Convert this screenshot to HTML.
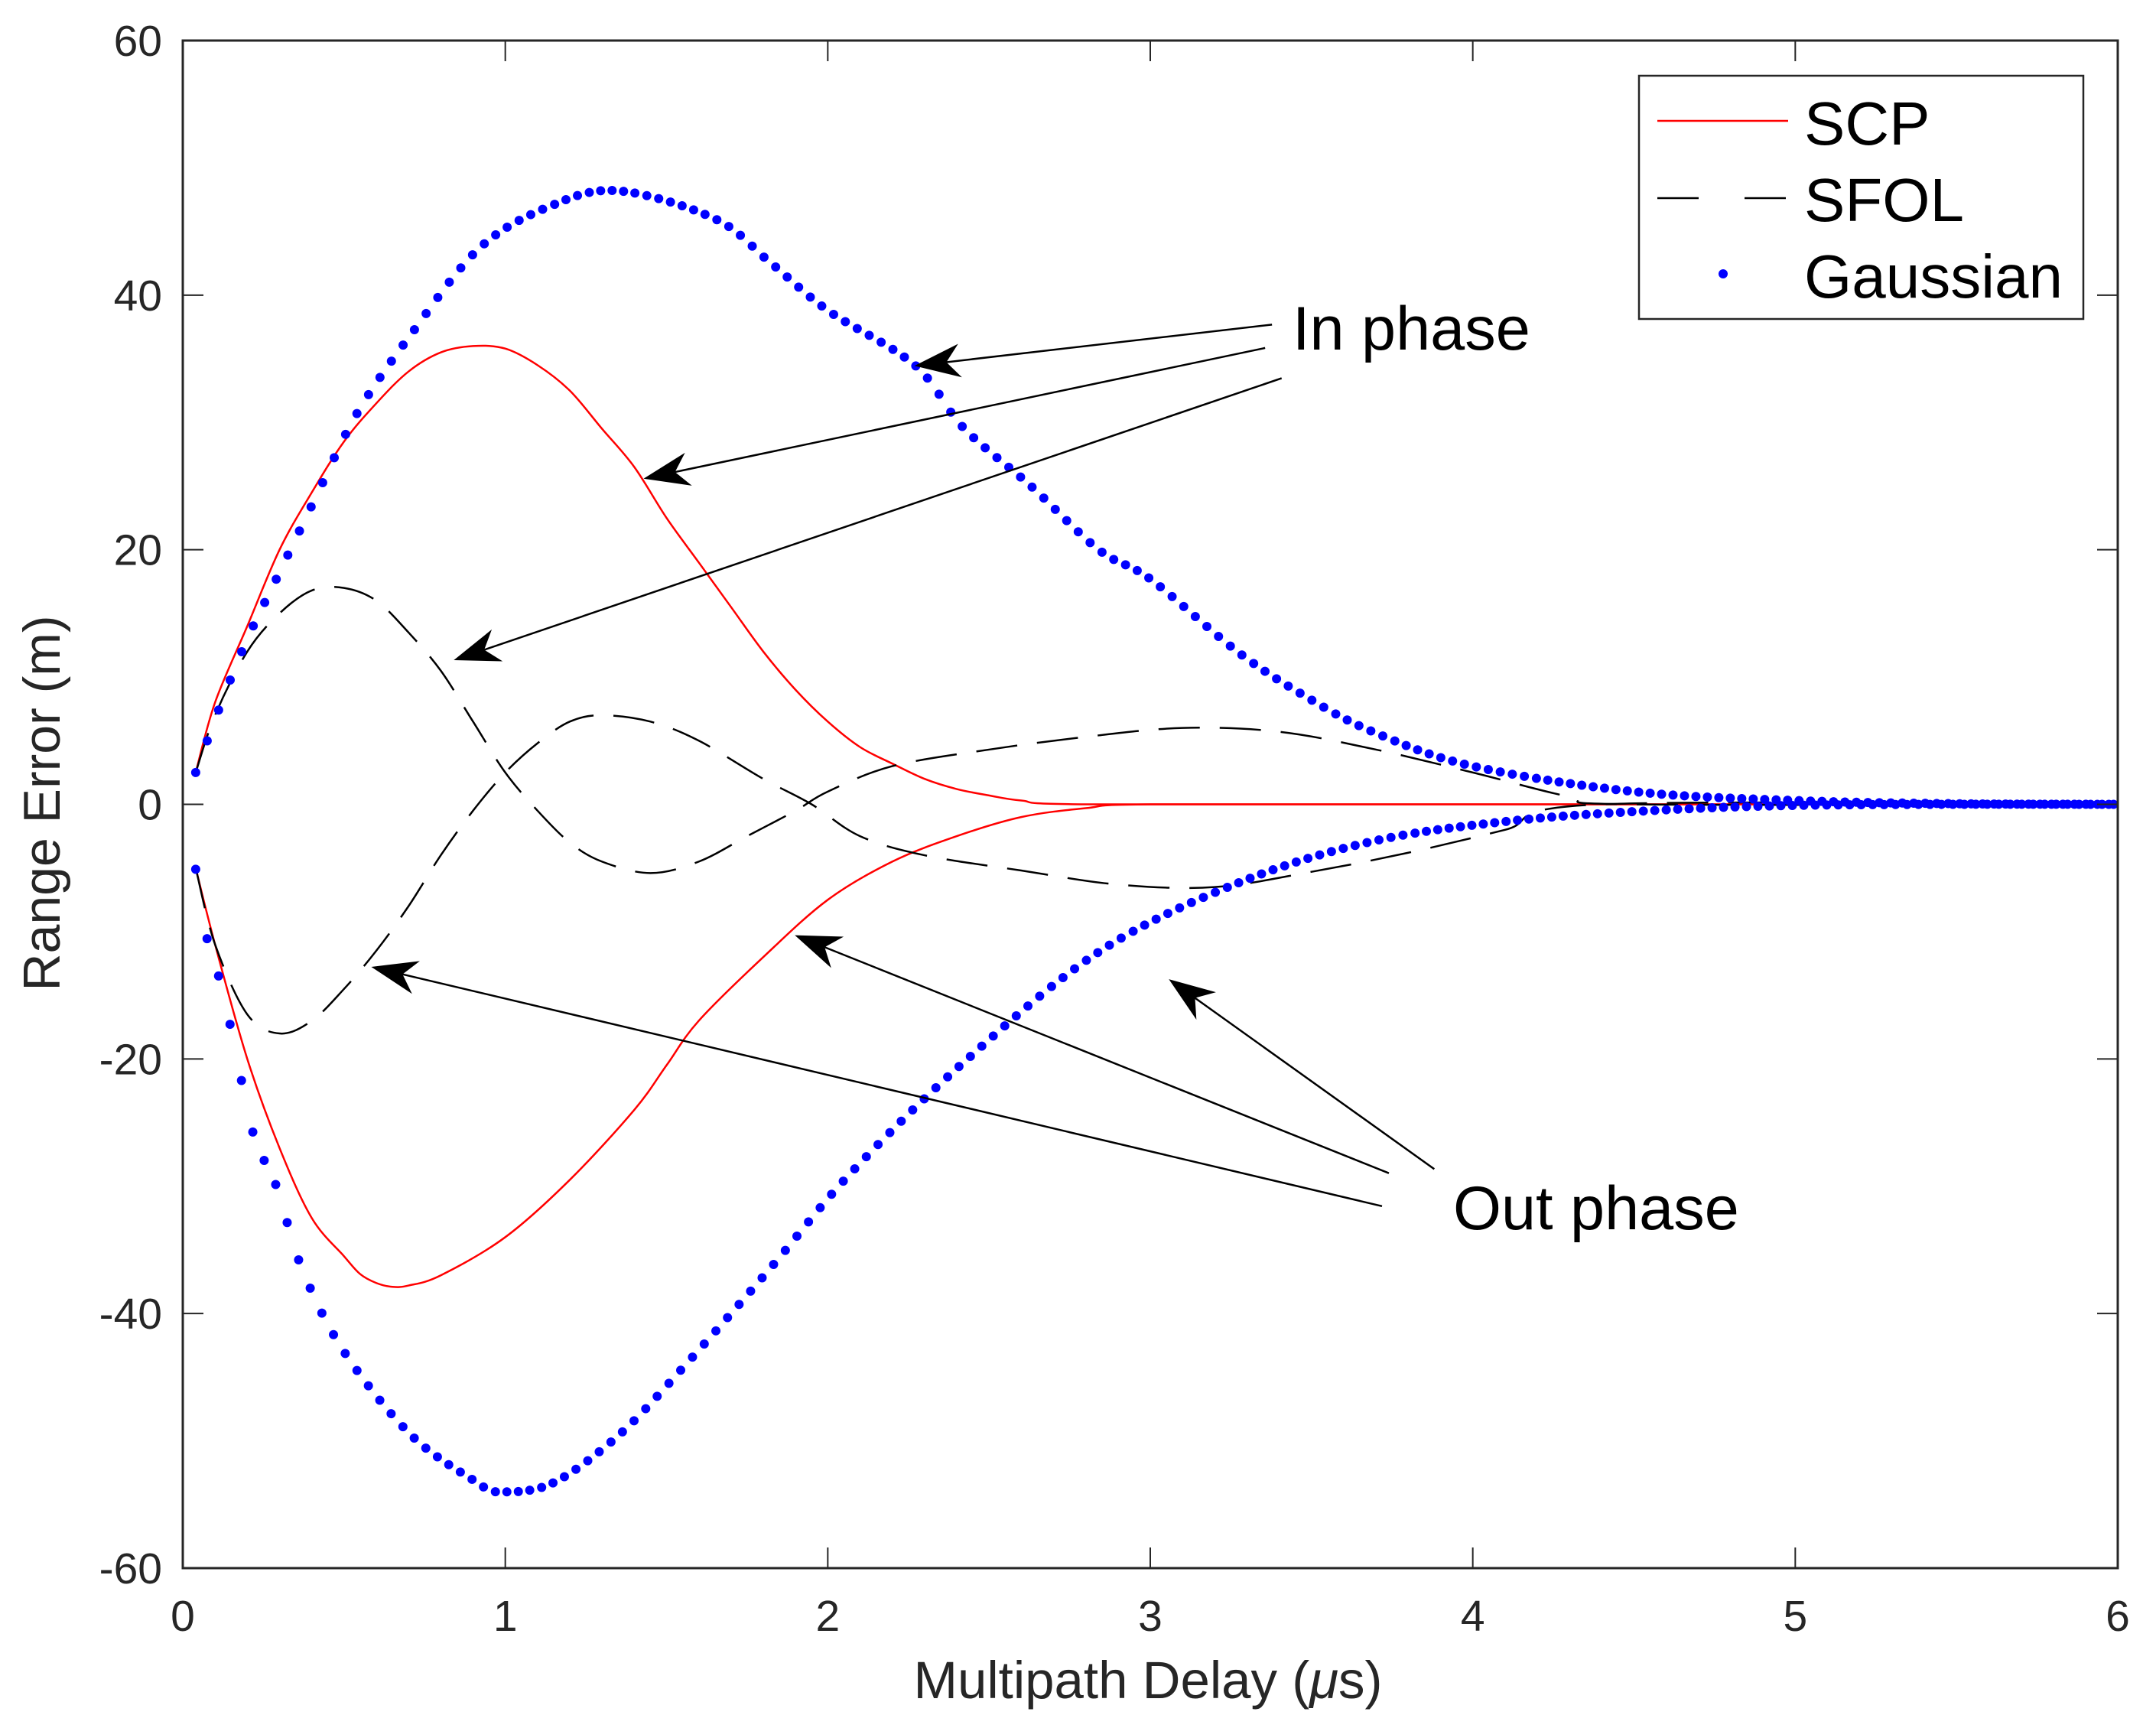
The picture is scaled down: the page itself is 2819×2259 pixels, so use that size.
<!DOCTYPE html>
<html><head><meta charset="utf-8"><style>
html,body{margin:0;padding:0;background:#fff;}
svg{display:block;font-family:"Liberation Sans",sans-serif;}
</style></head><body>
<svg id="chart" width="2819" height="2259" viewBox="0 0 2819 2259" xmlns="http://www.w3.org/2000/svg">
<rect width="2819" height="2259" fill="#fff"/>
<g id="plot"></g>
</svg>
<script>
const xTicks=[0,1,2,3,4,5,6];
const yTicks=[-60,-40,-20,0,20,40,60];
const gaussUpX=[0.04,0.12,0.2,0.29,0.41,0.54,0.71,0.92,1.14,1.35,1.65,1.82,2.0,2.27,2.42,2.63,2.84,3.0,3.27,3.48,3.69,4.0,4.5,5.0,5.5,6.0];
const gaussUpY=[2.5,8,13,17.7,24,30.7,37,43.7,47,48.2,46,42.6,38.8,34.5,29.6,25,20,17.7,12,8.5,5.7,3,1,0.3,0.05,0];
const gaussLoX=[0.04,0.07,0.12,0.16,0.22,0.29,0.37,0.5,0.71,0.92,0.97,1.14,1.35,1.56,1.82,2.07,2.42,2.84,3.27,3.69,4.12,4.55,4.97,5.5,6.0];
const gaussLoY=[-5.1,-10,-14.3,-18.9,-26,-30,-36.5,-43,-49.6,-53.4,-54,-53.4,-49.6,-44,-36.5,-29,-20.3,-11.6,-6.2,-2.9,-1.3,-0.5,-0.1,0,0];
const scpUpX=[0.04,0.1,0.2,0.3,0.4,0.5,0.6,0.7,0.8,0.9,1.0,1.1,1.2,1.3,1.4,1.5,1.6,1.7,1.8,1.9,2.0,2.1,2.2,2.3,2.4,2.5,2.6,2.8,4,6];
const scpUpY=[2.5,8,14,20,24.5,28.5,31.5,34,35.5,36,35.8,34.5,32.5,29.5,26.5,22.5,19,15.5,12,9,6.5,4.5,3.2,2,1.2,0.7,0.3,0,0,0];
const scpLoX=[0.04,0.1,0.2,0.3,0.4,0.5,0.55,0.6,0.65,0.7,0.8,1.0,1.2,1.4,1.5,1.6,1.8,2.0,2.2,2.4,2.6,2.8,3.0,4,6];
const scpLoY=[-5,-11,-20,-27,-32.5,-35.5,-36.9,-37.6,-37.9,-37.8,-37,-34,-29.5,-24,-20.5,-17,-12,-7.5,-4.5,-2.5,-1,-0.3,0,0,0];
const sfolUpX=[0.04,0.1,0.2,0.3,0.4,0.5,0.6,0.7,0.8,0.9,1.0,1.1,1.2,1.3,1.45,1.6,1.75,1.9,2.0,2.2,2.5,2.8,3.1,3.4,3.7,4.0,4.3,4.5,6];
const sfolUpY=[2.5,7,12,15,16.8,17,16,13.5,10.5,6.5,2.5,-0.5,-3,-4.5,-5.4,-4.5,-2.5,-0.5,1,3,4.3,5.3,6,5.7,4.3,2.5,0.6,0,0];
const sfolLoX=[0.04,0.1,0.2,0.3,0.4,0.5,0.6,0.7,0.8,0.9,1.0,1.1,1.2,1.3,1.45,1.6,1.8,1.95,2.1,2.3,2.6,2.9,3.2,3.5,3.8,4.1,4.4,6];
const sfolLoY=[-5,-11,-16.5,-18,-17,-14.5,-11.5,-8,-4,-0.5,2.5,4.8,6.5,7,6.5,5,2,0,-2.5,-4,-5.2,-6.3,-6.5,-5.3,-3.8,-2,0,0];

const X0=239,X1=2769,Y0=2050,Y1=53;
const sx=v=>X0+(v-0)/(6-0)*(X1-X0);
const sy=v=>Y0-(v+60)/120*(Y0-Y1);
const NS="http://www.w3.org/2000/svg";
const plot=document.getElementById('plot');
function mk(tag,attrs,parent){const e=document.createElementNS(NS,tag);for(const k in attrs)e.setAttribute(k,attrs[k]);(parent||plot).appendChild(e);return e;}
function crPath(xs,ys){
  const p=xs.map((x,i)=>[sx(x),sy(ys[i])]);
  let d=`M${p[0][0]},${p[0][1]}`;
  for(let i=0;i<p.length-1;i++){
    const a=p[Math.max(0,i-1)],b=p[i],c=p[i+1],e=p[Math.min(p.length-1,i+2)];
    const c1=[b[0]+(c[0]-a[0])/6,b[1]+(c[1]-a[1])/6],c2=[c[0]-(e[0]-b[0])/6,c[1]-(e[1]-b[1])/6];
    d+=` C${c1[0]},${c1[1]} ${c2[0]},${c2[1]} ${c[0]},${c[1]}`;
  }
  return d;
}
const sc1=mk('path',{d:crPath(scpUpX,scpUpY),fill:'none',stroke:'#ff0000','stroke-width':2.5});

const sc2=mk('path',{d:crPath(scpLoX,scpLoY),fill:'none',stroke:'#ff0000','stroke-width':2.5});

const sf1=mk('path',{d:crPath(sfolUpX,sfolUpY),fill:'none',stroke:'#000','stroke-width':2.5,'stroke-dasharray':'54 26'});

const sf2=mk('path',{d:crPath(sfolLoX,sfolLoY),fill:'none',stroke:'#000','stroke-width':2.5,'stroke-dasharray':'54 26'});

function dots(xs,ys,name){
  const tmp=mk('path',{d:crPath(xs,ys),fill:'none',stroke:'none'});
  const L=tmp.getTotalLength();
  const g=mk('g',{fill:'#0000ff'});
  
  let lastX=-1e9;
  for(let s=0;s<=L;s+=1){
    const pt=tmp.getPointAtLength(s);
    if(pt.x-lastX>=14.8){
      const c=mk('circle',{cx:pt.x,cy:pt.y,r:6},g);
      
      lastX=pt.x;
    }
  }
  tmp.remove();
}
dots(gaussUpX,gaussUpY,'gaussian-in-phase-dots');
dots(gaussLoX,gaussLoY,'gaussian-out-phase-dots');
const box=mk('rect',{x:X0,y:Y1,width:X1-X0,height:Y0-Y1,fill:'none',stroke:'#262626','stroke-width':3});

xTicks.forEach(t=>{
  const x=sx(t);
  mk('line',{x1:x,y1:Y0,x2:x,y2:Y0-27,stroke:'#262626','stroke-width':2});
  mk('line',{x1:x,y1:Y1,x2:x,y2:Y1+27,stroke:'#262626','stroke-width':2});
  const tx=mk('text',{x:x,y:Y0+82,'font-size':57,'text-anchor':'middle',fill:'#262626'});
  tx.textContent=t;
  
});
yTicks.forEach(t=>{
  const y=sy(t);
  mk('line',{x1:X0,y1:y,x2:X0+27,y2:y,stroke:'#262626','stroke-width':2});
  mk('line',{x1:X1,y1:y,x2:X1-27,y2:y,stroke:'#262626','stroke-width':2});
  const tx=mk('text',{x:212,y:y+20,'font-size':57,'text-anchor':'end',fill:'#262626'});
  tx.textContent=t;
  
});
function arrow(x1,y1,x2,y2,name){
  const k=1.798;x1*=k;y1*=k;x2*=k;y2*=k;
  const g=mk('g',{});
  
  const a=Math.atan2(y1-y2,x1-x2);
  const L=60,W=22;
  const bx=x2+L*Math.cos(a),by=y2+L*Math.sin(a);
  const nx=x2+L*0.7*Math.cos(a),ny=y2+L*0.7*Math.sin(a);
  const px=-Math.sin(a)*W,py=Math.cos(a)*W;
  mk('line',{x1:x1,y1:y1,x2:nx,y2:ny,stroke:'#000','stroke-width':2.5},g);
  mk('path',{d:`M${x2},${y2} L${bx+px},${by+py} L${nx},${ny} L${bx-px},${by-py} Z`,fill:'#000'},g);
}
arrow(925,236,665,266,'in-phase-arrow-gaussian');
arrow(920,253,468,348,'in-phase-arrow-scp');
arrow(932,275,330,480,'in-phase-arrow-sfol');
arrow(1043,850,850,712,'out-phase-arrow-gaussian');
arrow(1010,853,578,680,'out-phase-arrow-scp');
arrow(1005,877,270,703,'out-phase-arrow-sfol');
</script>
<svg style="position:absolute;left:0;top:0" width="2819" height="2259" xmlns="http://www.w3.org/2000/svg">
<text x="1690" y="457" font-size="81" fill="#000" font-family="Liberation Sans, sans-serif">In phase</text>
<text x="1900" y="1607" font-size="81" fill="#000" font-family="Liberation Sans, sans-serif">Out phase</text>
<text x="1501" y="2220" font-size="69" text-anchor="middle" fill="#262626" font-family="Liberation Sans, sans-serif">Multipath Delay (<tspan font-style="italic">μ</tspan>s)</text>
<text transform="translate(78,1050) rotate(-90)" font-size="68" text-anchor="middle" fill="#262626" font-family="Liberation Sans, sans-serif">Range Error (m)</text>
<g>
<rect x="2143" y="99" width="581" height="318" fill="#fff" stroke="#262626" stroke-width="2.5"/>
<line x1="2167" y1="158" x2="2338" y2="158" stroke="#ff0000" stroke-width="2.5"/>
<text x="2359" y="189" font-size="80" fill="#000" font-family="Liberation Sans, sans-serif">SCP</text>
<line x1="2167" y1="259" x2="2338" y2="259" stroke="#000" stroke-width="2.5" stroke-dasharray="54 60"/>
<text x="2359" y="289" font-size="80" fill="#000" font-family="Liberation Sans, sans-serif">SFOL</text>
<circle cx="2253" cy="358" r="6" fill="#0000ff"/>
<text x="2359" y="389" font-size="80" fill="#000" font-family="Liberation Sans, sans-serif">Gaussian</text>
</g>
</svg>
</body></html>
